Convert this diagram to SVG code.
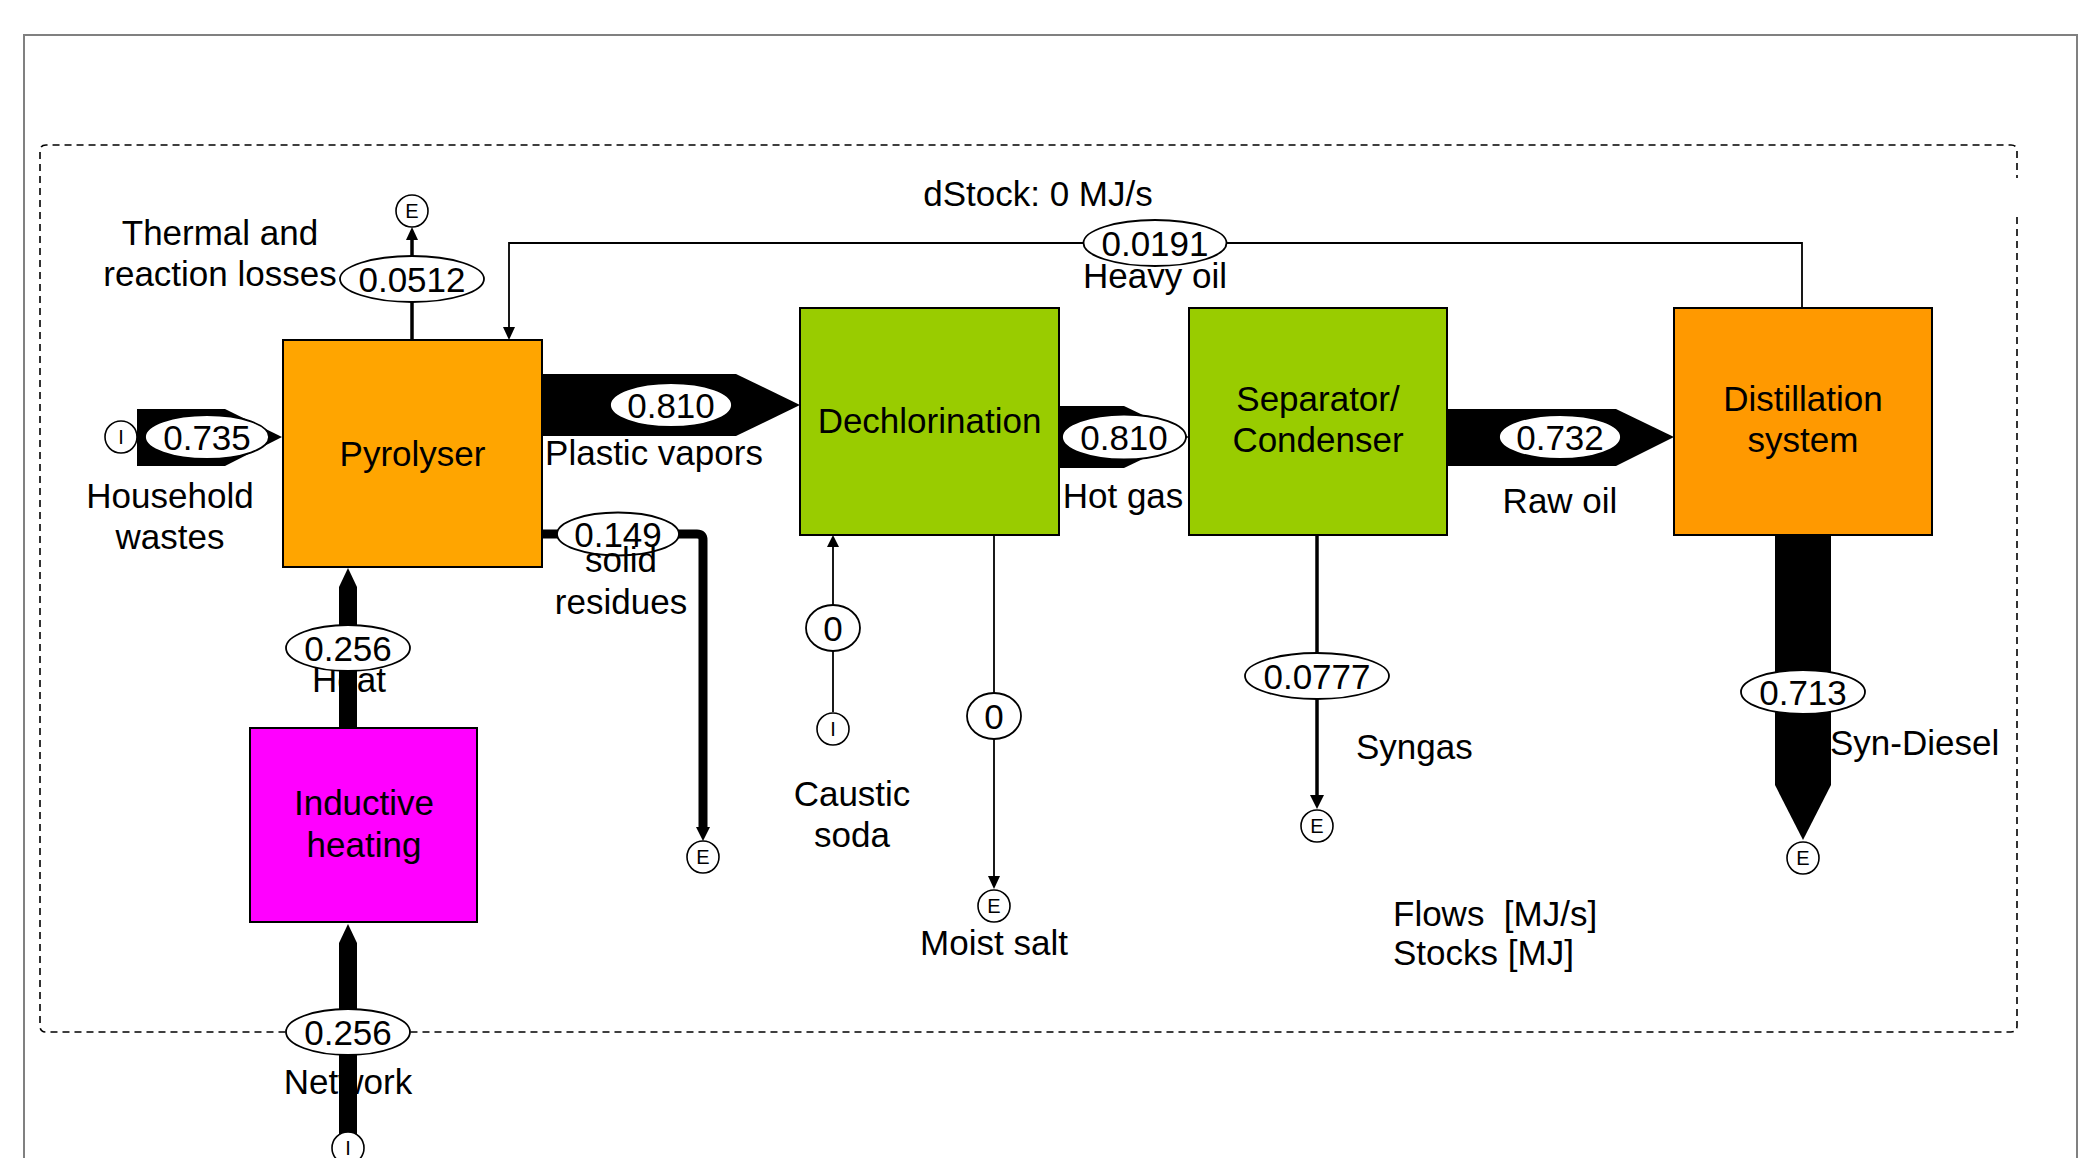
<svg xmlns="http://www.w3.org/2000/svg" width="2092" height="1158" viewBox="0 0 2092 1158">
<style>
text{font-family:"Liberation Sans",Arial,sans-serif;fill:#000}
.lbl{font-size:35px;text-anchor:middle}
.lft{font-size:35px;text-anchor:start}
.val{font-size:35px;text-anchor:middle}
.term{font-size:20px;text-anchor:middle}
.box{stroke:#000;stroke-width:2}
.oval{fill:#fff;stroke:#000;stroke-width:1.8}
.tc{fill:#fff;stroke:#000;stroke-width:1.6}
.thin{fill:none;stroke:#000;stroke-width:1.8}
.mid{fill:none;stroke:#000;stroke-width:3.5}
.fat{fill:#000;stroke:none}
</style>
<rect width="2092" height="1158" fill="#fff"/>
<path d="M24,1158 V35 H2077 V1158" fill="none" stroke="#808080" stroke-width="2"/>
<path d="M2017,217 V1026 Q2017,1032 2011,1032 H46 Q40,1032 40,1026 V151 Q40,145 46,145 H2011 Q2017,145 2017,151 V178" fill="none" stroke="#000" stroke-width="1.6" stroke-dasharray="7,5"/>
<text class="lbl" x="1038" y="206">dStock: 0 MJ/s</text>
<g id="labels">
<text class="lbl" x="220" y="245">Thermal and</text>
<text class="lbl" x="220" y="286">reaction losses</text>
<text class="lbl" x="170" y="508">Household</text>
<text class="lbl" x="170" y="549">wastes</text>
<text class="lbl" x="654" y="465">Plastic vapors</text>
<text class="lbl" x="1123" y="508">Hot gas</text>
<text class="lbl" x="1560" y="513">Raw oil</text>
<text class="lbl" x="621" y="614">residues</text>
<text class="lbl" x="349" y="692">Heat</text>
<text class="lbl" x="348" y="1094">Network</text>
<text class="lbl" x="852" y="806">Caustic</text>
<text class="lbl" x="852" y="847">soda</text>
<text class="lbl" x="994" y="955">Moist salt</text>
<text class="lft" x="1356" y="759">Syngas</text>
<text class="lft" x="1830" y="755">Syn-Diesel</text>
<text class="lft" x="1393" y="926" xml:space="preserve">Flows  [MJ/s]</text>
<text class="lft" x="1393" y="965">Stocks [MJ]</text>
</g>
<g id="connectors">
<polygon class="fat" points="137,409 225,409 282,437 225,466 137,466"/>
<polygon class="fat" points="542,374 736,374 800,405 736,436 542,436"/>
<polygon class="fat" points="1059,406 1124,406 1189,437 1124,468 1059,468"/>
<polygon class="fat" points="1447,409 1616,409 1674,437 1616,466 1447,466"/>
<polygon class="fat" points="1775,535 1831,535 1831,785 1803,840 1775,785"/>
<polygon class="fat" points="339,728 339,587 348,568 357,587 357,728"/>
<polygon class="fat" points="339,1136 339,943 348,924 357,943 357,1136"/>
<path d="M542,534 H697 Q703,534 703,540 V828" fill="none" stroke="#000" stroke-width="9"/>
<polygon class="fat" points="696,827 710,827 703,841"/>
<path class="mid" d="M412,340 V239"/>
<polygon class="fat" points="406,240 418,240 412,227"/>
<path class="thin" d="M1802,308 V243 H509 V328"/>
<polygon class="fat" points="503,327 515,327 509,340"/>
<path class="thin" d="M833,712 V546"/>
<polygon class="fat" points="827,547 839,547 833,535"/>
<path class="thin" d="M994,535 V877"/>
<polygon class="fat" points="988,876 1000,876 994,889"/>
<path class="mid" d="M1317,535 V797"/>
<polygon class="fat" points="1310,795 1324,795 1317,809"/>
<ellipse class="oval" cx="412" cy="279" rx="72" ry="23"/><text class="val" x="412" y="292">0.0512</text>
<ellipse class="oval" cx="207" cy="437" rx="62" ry="22"/><text class="val" x="207" y="450">0.735</text>
<ellipse class="oval" cx="671" cy="405" rx="61" ry="22"/><text class="val" x="671" y="418">0.810</text>
<ellipse class="oval" cx="1124" cy="437" rx="62" ry="22.5"/><text class="val" x="1124" y="450">0.810</text>
<ellipse class="oval" cx="1560" cy="437" rx="61" ry="22"/><text class="val" x="1560" y="450">0.732</text>
<ellipse class="oval" cx="1155" cy="243" rx="71.5" ry="23"/><text class="val" x="1155" y="256">0.0191</text>
<ellipse class="oval" cx="618" cy="534" rx="61" ry="21.5"/><text class="val" x="618" y="547">0.149</text>
<ellipse class="oval" cx="348" cy="648" rx="62" ry="23"/><text class="val" x="348" y="661">0.256</text>
<ellipse class="oval" cx="348" cy="1032" rx="62" ry="23"/><text class="val" x="348" y="1045">0.256</text>
<ellipse class="oval" cx="833" cy="628" rx="27" ry="23"/><text class="val" x="833" y="641">0</text>
<ellipse class="oval" cx="994" cy="716" rx="27" ry="23"/><text class="val" x="994" y="729">0</text>
<ellipse class="oval" cx="1317" cy="676" rx="72" ry="23"/><text class="val" x="1317" y="689">0.0777</text>
<ellipse class="oval" cx="1803" cy="692" rx="62" ry="22"/><text class="val" x="1803" y="705">0.713</text>
</g>
<text class="lbl" x="1155" y="288">Heavy oil</text>
<text class="lbl" x="621" y="572">solid</text>
<g id="terminals">
<g id="in-household"><circle class="tc" cx="121" cy="437" r="16"/><text class="term" x="121" y="444">I</text></g>
<g id="out-losses"><circle class="tc" cx="412" cy="211" r="16"/><text class="term" x="412" y="218">E</text></g>
<g id="out-solid"><circle class="tc" cx="703" cy="857" r="16"/><text class="term" x="703" y="864">E</text></g>
<g id="in-network"><circle class="tc" cx="348" cy="1148" r="16"/><text class="term" x="348" y="1155">I</text></g>
<g id="in-caustic"><circle class="tc" cx="833" cy="729" r="16"/><text class="term" x="833" y="736">I</text></g>
<g id="out-salt"><circle class="tc" cx="994" cy="906" r="16"/><text class="term" x="994" y="913">E</text></g>
<g id="out-syngas"><circle class="tc" cx="1317" cy="826" r="16"/><text class="term" x="1317" y="833">E</text></g>
<g id="out-diesel"><circle class="tc" cx="1803" cy="858" r="16"/><text class="term" x="1803" y="865">E</text></g>
</g>
<g id="pyrolyser"><rect class="box" x="283" y="340" width="259" height="227" fill="#FFA500"/><text class="lbl" x="412.5" y="466">Pyrolyser</text></g>
<g id="dechlorination"><rect class="box" x="800" y="308" width="259" height="227" fill="#99CC00"/><text class="lbl" x="929.5" y="433">Dechlorination</text></g>
<g id="separator"><rect class="box" x="1189" y="308" width="258" height="227" fill="#99CC00"/><text class="lbl" x="1318" y="411">Separator/</text><text class="lbl" x="1318" y="452">Condenser</text></g>
<g id="distillation"><rect class="box" x="1674" y="308" width="258" height="227" fill="#FF9900"/><text class="lbl" x="1803" y="411">Distillation</text><text class="lbl" x="1803" y="452">system</text></g>
<g id="inductive"><rect class="box" x="250" y="728" width="227" height="194" fill="#FF00FF"/><text class="lbl" x="364" y="815">Inductive</text><text class="lbl" x="364" y="857">heating</text></g>
</svg>
